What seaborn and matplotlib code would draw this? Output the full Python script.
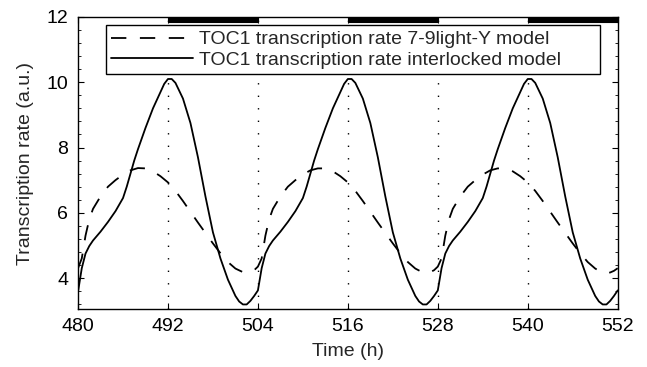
import matplotlib
matplotlib.use("Agg")
import matplotlib.pyplot as plt
from matplotlib.ticker import AutoMinorLocator
import seaborn as sns

# ---- data ----
t_model79 = [480, 480.5, 481, 481.5, 482, 483, 484, 485, 486, 487, 488, 489, 490, 491,
             492, 493, 494, 495, 496, 497, 498, 499, 500, 501, 502, 502.5, 503, 503.5,
             504, 504.5, 505, 505.5, 506, 507, 508, 509, 510, 511, 512, 513, 514, 515,
             516, 517, 518, 519, 520, 521, 522, 523, 524, 525, 526, 526.5, 527, 527.5,
             528, 528.5, 529, 529.5, 530, 531, 532, 533, 534, 535, 536, 537, 538, 539,
             540, 541, 542, 543, 544, 545, 546, 547, 548, 549, 550, 550.5, 551, 551.5, 552]
rate_model79 = [4.3, 4.6, 5.3, 5.8, 6.12, 6.5, 6.8, 7.0, 7.17, 7.3, 7.37, 7.36, 7.27, 7.12,
                6.93, 6.67, 6.36, 6.03, 5.7, 5.38, 5.06, 4.76, 4.49, 4.29, 4.18, 4.16, 4.18, 4.24,
                4.35, 4.6, 5.3, 5.8, 6.12, 6.5, 6.8, 7.0, 7.17, 7.3, 7.36, 7.36, 7.27, 7.12,
                6.93, 6.67, 6.36, 6.03, 5.7, 5.38, 5.06, 4.76, 4.49, 4.29, 4.17, 4.15, 4.18, 4.24,
                4.35, 4.6, 5.3, 5.8, 6.12, 6.5, 6.8, 7.0, 7.17, 7.3, 7.36, 7.36, 7.27, 7.12,
                6.93, 6.67, 6.36, 6.03, 5.7, 5.38, 5.06, 4.76, 4.49, 4.29, 4.16, 4.14, 4.17, 4.22, 4.3]

t_interlocked = [480, 480.5, 481, 481.5, 482, 483, 484, 485, 486, 486.5, 487, 487.5, 488, 489,
                 490, 491, 491.5, 492, 492.5, 493, 494, 495, 496, 497, 498, 499, 500, 501,
                 501.5, 502, 502.5, 503, 503.5,
                 504, 504.5, 505, 505.5, 506, 507, 508, 509, 510, 510.5, 511, 511.5, 512, 513,
                 514, 515, 515.5, 516, 516.5, 517, 518, 519, 520, 521, 522, 523, 524, 525,
                 525.5, 526, 526.5, 527, 527.5,
                 528, 528.5, 529, 529.5, 530, 531, 532, 533, 534, 534.5, 535, 535.5, 536, 537,
                 538, 539, 539.5, 540, 540.5, 541, 542, 543, 544, 545, 546, 547, 548, 549,
                 549.5, 550, 550.5, 551, 551.5, 552]
rate_interlocked = [3.58, 4.3, 4.75, 4.98, 5.15, 5.42, 5.72, 6.05, 6.45, 6.8, 7.2, 7.6, 7.95, 8.6,
                    9.2, 9.7, 9.95, 10.1, 10.1, 9.98, 9.5, 8.75, 7.7, 6.5, 5.4, 4.6, 3.95, 3.45,
                    3.28, 3.19, 3.19, 3.3, 3.45,
                    3.62, 4.3, 4.75, 4.98, 5.15, 5.42, 5.72, 6.05, 6.45, 6.8, 7.2, 7.6, 7.95, 8.6,
                    9.2, 9.7, 9.95, 10.1, 10.1, 9.98, 9.5, 8.75, 7.7, 6.5, 5.4, 4.6, 3.95, 3.45,
                    3.28, 3.19, 3.19, 3.3, 3.45,
                    3.62, 4.3, 4.75, 4.98, 5.15, 5.42, 5.72, 6.05, 6.45, 6.8, 7.2, 7.6, 7.95, 8.6,
                    9.2, 9.7, 9.95, 10.1, 10.1, 9.98, 9.5, 8.75, 7.7, 6.5, 5.4, 4.6, 3.95, 3.45,
                    3.28, 3.19, 3.19, 3.3, 3.45, 3.62]

dotted_times = [492, 504, 516, 528, 540]
night_start = [492, 516, 540]
night_end = [504, 528, 552]
x_ticks = [480, 492, 504, 516, 528, 540, 552]
y_ticks = [4, 6, 8, 10, 12]

label_79 = "TOC1 transcription rate 7-9light-Y model"
label_il = "TOC1 transcription rate interlocked model"

sns.set_theme(style="ticks")
plt.rcParams["font.family"] = ["Liberation Sans", "DejaVu Sans"]
plt.rcParams["font.size"] = 14

fig, ax = plt.subplots(figsize=(6.47, 3.67), dpi=100)
fig.subplots_adjust(left=0.1206, right=0.9547, top=0.9537, bottom=0.158)

for t in dotted_times:
    ax.axvline(t, color="black", lw=1.0, linestyle=(0, (1, 8)), zorder=1)

sns.lineplot(x=t_model79, y=rate_model79, ax=ax, color="black", lw=1.3,
             label=label_79, zorder=3)
ax.lines[-1].set_linestyle((0, (8.5, 7.5)))
sns.lineplot(x=t_interlocked, y=rate_interlocked, ax=ax, color="black", lw=1.3,
             label=label_il, zorder=3)

# dark periods (black bars along the top)
for s, e in zip(night_start, night_end):
    ax.plot([s, e], [11.91, 11.91], color="black", lw=4.4,
            solid_capstyle="butt", zorder=4)

ax.set_xlim(480, 552)
ax.set_ylim(3.05, 12)
ax.set_xticks(x_ticks)
ax.set_yticks(y_ticks)
ax.yaxis.set_minor_locator(AutoMinorLocator(5))
ax.tick_params(axis="both", which="both", direction="in", top=True, right=True,
               colors="black", labelsize=14)
ax.tick_params(which="major", length=4, width=0.8)
ax.tick_params(which="minor", length=2, width=0.6)
ax.tick_params(axis="y", pad=7)
ax.tick_params(axis="x", pad=6.5)
for sp in ax.spines.values():
    sp.set_visible(True)
    sp.set_color("black")
    sp.set_linewidth(1.0)

ax.set_xlabel("Time (h)", fontsize=14, labelpad=6)
ax.set_ylabel("Transcription rate (a.u.)", fontsize=14, labelpad=9)

leg = ax.legend(loc="upper left", bbox_to_anchor=(0.0519, 0.0, 0.915, 0.9716),
                mode="expand", frameon=True, fancybox=False, framealpha=1,
                edgecolor="black", fontsize=14, handlelength=4.2, borderpad=0.28,
                labelspacing=0.15, handletextpad=0.3, borderaxespad=0)
leg.get_frame().set_linewidth(1.0)
leg.set_zorder(5)

fig.savefig("out.png", dpi=100)
